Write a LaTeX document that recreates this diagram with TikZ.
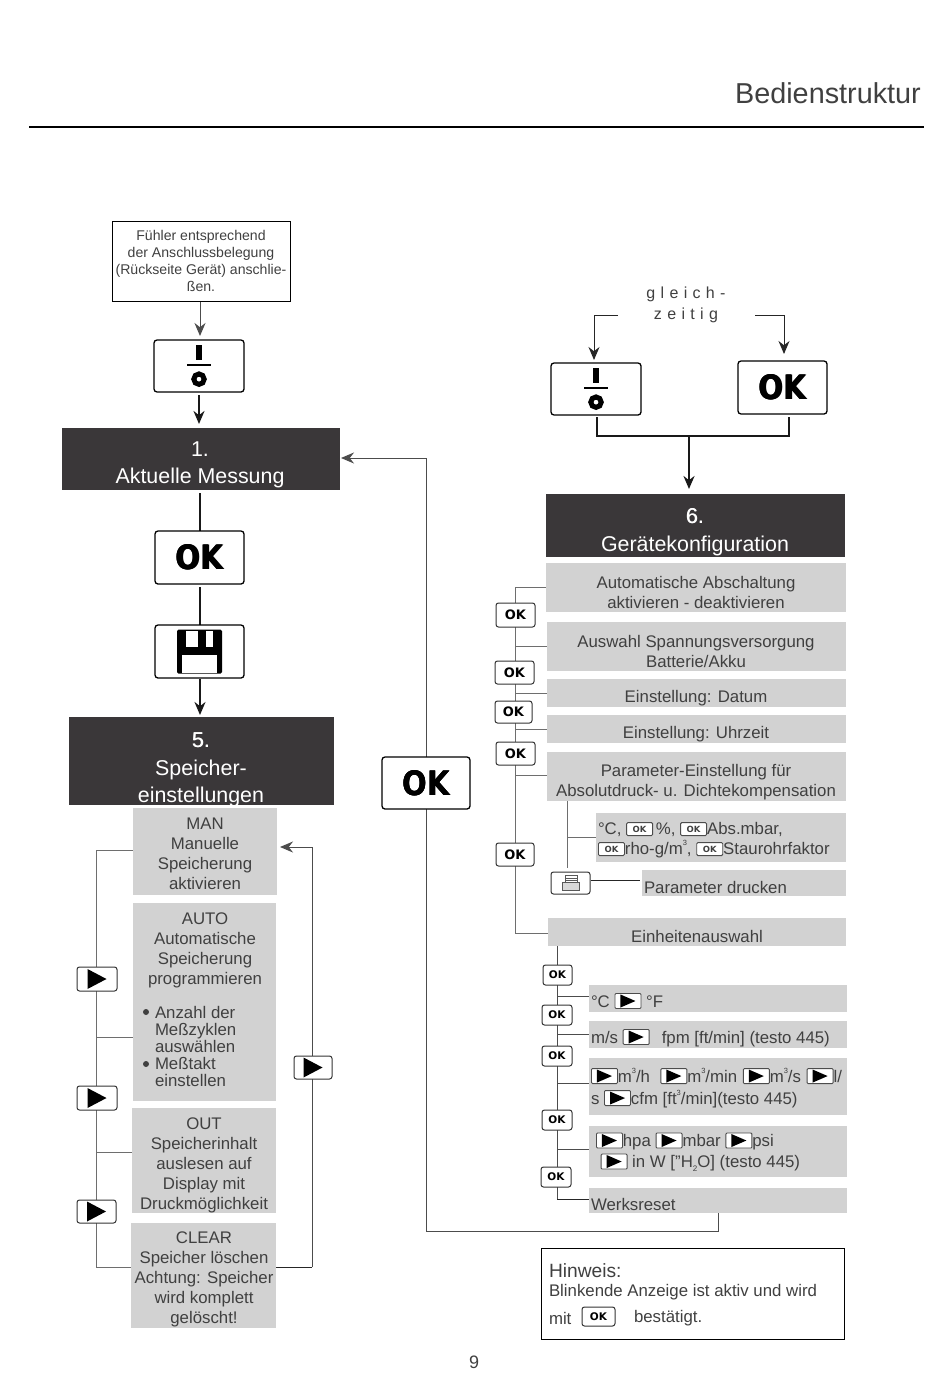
\documentclass[tikz,border=0pt]{standalone}
\usepackage{fontspec}
\usepackage{graphicx}
\setmainfont{Liberation Sans}
\newfontfamily\okfont{DejaVu Sans Bold}
\usetikzlibrary{arrows.meta,calc}
\definecolor{txtc}{HTML}{404040}
\definecolor{graybox}{HTML}{D2D2D2}
\definecolor{headc}{HTML}{3A3739}
\definecolor{linec}{HTML}{6E6E6E}
\pgfdeclarelayer{bg}
\pgfsetlayers{bg,main}
\tikzset{
 gbox/.style={fill=graybox,inner sep=0pt,outer sep=0pt},
 hbox/.style={fill=headc,inner sep=0pt,outer sep=0pt},
 wbox/.style={draw=black,line width=1pt,fill=white,inner sep=0pt,outer sep=0pt},
 btnbox/.style={draw=black!80,line width=1pt,fill=white,rounded corners=2.5pt,inner sep=0pt,outer sep=0pt},
 bigbtn/.style={draw=black,line width=1.3pt,fill=white,rounded corners=3pt,inner sep=0pt,outer sep=0pt},
 lbl/.style={inner sep=0pt,outer sep=0pt,text=txtc,align=center,font=\fontsize{16.8}{20}\selectfont},
 lbll/.style={lbl,align=left,anchor=west},
 hlbl/.style={inner sep=0pt,outer sep=0pt,text=white,align=center,font=\fontsize{21.4}{27.5}\selectfont},
 gl/.style={draw=linec,line width=1pt},
 bl/.style={draw=black!85,line width=1pt},
 thk/.style={draw=black!90,line width=2.4pt},
 arr/.style={-{Stealth[length=13pt,width=11pt]}},
}
\newcommand\bx[7]{% style,name,x1,y1,x2,y2,content
 \pgfmathsetmacro\bxw{#5-#3}\pgfmathsetmacro\bxh{#6-#4}%
 \pgfmathsetmacro\bxx{(#3+#5)/2}\pgfmathsetmacro\bxy{(#4+#6)/2}%
 \node[#1,minimum width=\bxw pt,minimum height=\bxh pt] (#2) at (\bxx,\bxy) {#7};}
\newcommand\oktxt[1]{{\okfont\fontsize{#1}{#1}\selectfont OK}}
\newcommand\bigok{\scalebox{.97}[1.12]{\okfont\fontsize{30}{30}\selectfont\rlap{OK}\kern.5pt\rlap{OK}\kern-.5pt\raisebox{.4pt}{OK}}}
\newcommand\fauxb[1]{\rlap{#1}\kern.35pt #1}
\newcommand\playicon[2]{\tikz[x=1pt,y=1pt,sharp corners]\fill[black] (0,0) -- (#1,#2/2) -- (0,#2) -- cycle;}
\newcommand\powericon{\tikz[x=1pt,y=1pt,sharp corners]{%
 \fill[black] (-2.8,26) rectangle (2.8,41);
 \fill[black] (-12,20) rectangle (12,22.4);
 \draw[black,line width=5pt] (0,7) circle (5.2pt);}}
\newcommand\floppy{\tikz[x=1pt,y=1pt,sharp corners]{%
 \fill[black,rounded corners=1.5pt] (0,0) rectangle (45,44);
 \fill[white] (9,27) rectangle (36,43);
 \fill[black] (21,27) rectangle (29,43);
 \fill[white] (5,1) rectangle (40,19);}}
\newcommand\printericon{\tikz[x=1pt,y=1pt,sharp corners]{%
 \draw[black!65,line width=.9pt,fill=white] (3,8) -- (3,15) -- (15,15) -- (15,8);
 \draw[black!65,line width=.9pt,fill=black!15] (0,0) rectangle (17,8);
 \draw[black!65,line width=.7pt] (3,12) -- (15,12) (3,10) -- (15,10);}}
\newcommand\inlok[2][26]{\raisebox{-1.6pt}{\tikz[x=1pt,y=1pt]\node[draw=black!70,line width=.9pt,fill=white,rounded corners=1.2pt,inner sep=0pt,minimum width=#1pt,minimum height=#2pt]{\oktxt{8.5}};}}
\newcommand\inlplay[1][26]{\raisebox{-1.5pt}{\tikz[x=1pt,y=1pt]\node[draw=black!70,line width=.9pt,fill=white,rounded corners=1pt,inner sep=0pt,minimum width=#1pt,minimum height=15pt]{\playicon{15}{13}};}}
\newcommand\supt[1]{\raisebox{.55em}{\fontsize{7.5}{7.5}\selectfont #1}}
\newcommand\subt[1]{\raisebox{-.2em}{\fontsize{8}{8}\selectfont #1}}
\begin{document}
\begin{tikzpicture}[x=1pt,y=-1pt]
\useasboundingbox (0,0) rectangle (950,1378);
% title
\node[inner sep=0pt,anchor=base east,text=txtc,font=\fontsize{28.8}{30}\selectfont] (title) at (921,104) {Bedienstruktur};
\coordinate (ruleL) at (29,127);
\coordinate (ruleR) at (924,127);
\draw[black,line width=2pt] (ruleL) -- (ruleR);
% left column
\bx{wbox}{probe}{112}{221}{290}{301}{}
\node[lbl,font=\fontsize{14.1}{17}\selectfont] (probeT) at (201,261) {Fühler entsprechend\\der Anschlussbelegung\\(Rückseite Gerät) anschlie-\\ßen.};
\bx{bigbtn}{pw1}{154}{340}{244}{392}{\powericon}
\bx{hbox}{h1}{62}{428}{340}{490}{}
\node[hlbl] (h1T) at (200,465) {1.\\Aktuelle Messung};
\bx{bigbtn}{ok1}{155}{531}{244}{584}{\bigok}
\bx{bigbtn}{save}{155}{625}{244}{678}{\floppy}
\bx{hbox}{h5}{69}{717}{334}{805}{}
\node[hlbl] (h5T) at (201,770) {\fauxb{5.}\\Speicher-\\einstellungen};
\bx{gbox}{man}{133}{808}{277}{895}{}
\node[lbl] (manT) at (205,854) {MAN\\Manuelle\\Speicherung\\aktivieren};
\bx{gbox}{auto}{133}{903}{276}{1101}{}
\node[lbl] (autoT) at (205,950) {AUTO\\Automatische\\Speicherung\\programmieren};
\node[lbl,align=left,anchor=north west,font=\fontsize{16.8}{17.2}\selectfont] (autoL) at (155,1006) {Anzahl der\\Meßzyklen\\auswählen\\Meßtakt\\einstellen};
\node[circle,fill=txtc,inner sep=0pt,minimum size=6pt] (b1) at (146,1012) {};
\node[circle,fill=txtc,inner sep=0pt,minimum size=6pt] (b2) at (146,1064) {};
\bx{gbox}{out}{132}{1108}{276}{1213}{}
\node[lbl] (outT) at (204,1165) {OUT\\Speicherinhalt\\auslesen auf\\Display mit\\Druckmöglichkeit};
\bx{gbox}{clear}{131}{1223}{276}{1328}{}
\node[lbl] (clearT) at (204,1279.5) {CLEAR\\Speicher löschen\\Achtung: Speicher\\wird komplett\\gelöscht!};
\bx{btnbox}{p1}{77}{967}{117}{991}{\playicon{19}{20}}
\bx{btnbox}{p2}{77}{1086}{117}{1110}{\playicon{19}{20}}
\bx{btnbox}{p3}{77}{1200}{116}{1223}{\playicon{19}{20}}
\bx{btnbox}{p4}{294}{1056}{332}{1079}{\playicon{19}{20}}
\bx{bigbtn}{okm}{382}{757}{470}{809}{\bigok}
% right column
\node[lbl,font=\fontsize{16}{21}\selectfont] (gleich) at (686,305) {g\,\,l\,\,e\,\,i\,\,c\,\,h\,\,-\\z\,\,e\,\,i\,\,t\,\,i\,\,g};
\bx{bigbtn}{pw2}{551}{363}{641}{415}{\powericon}
\bx{bigbtn}{ok2}{738}{361}{827}{414}{\bigok}
\bx{hbox}{h6}{546}{494}{845}{557}{}
\node[hlbl] (h6T) at (695,532) {\fauxb{6.}\\Gerätekonfiguration};
\bx{gbox}{ga}{546}{563}{846}{612}{}
\node[lbl] (gaT) at (696,592.5) {Automatische Abschaltung\\aktivieren - deaktivieren};
\bx{gbox}{gb}{547}{622}{846}{671}{}
\node[lbl] (gbT) at (696,651) {Auswahl Spannungsversorgung\\Batterie/Akku};
\bx{gbox}{gc}{547}{679}{846}{707}{}
\node[lbl] (gcT) at (696,698.5) {Einstellung: Datum};
\bx{gbox}{gd}{547}{715}{846}{743}{}
\node[lbl] (gdT) at (696,734.5) {Einstellung: Uhrzeit};
\bx{gbox}{ge}{547}{752}{846}{801}{}
\node[lbl] (geT) at (696,782) {Parameter-Einstellung für\\Absolutdruck- u. Dichtekompensation};
\bx{gbox}{gf}{596}{813}{846}{862}{}
\node[lbll] (gfT) at (598,840) {°C, \inlok{13}\,\%, \inlok{13}Abs.mbar,\\\inlok{13}rho-g/m\supt{3}, \inlok{13}Staurohrfaktor};
\bx{gbox}{gg}{642}{870}{846}{896}{}
\node[lbll] (ggT) at (644,887) {Parameter drucken};
\bx{gbox}{gh}{548}{918}{846}{946}{}
\node[lbl] (ghT) at (697,936.5) {Einheitenauswahl};
\bx{gbox}{gi}{589}{985}{847}{1012}{}
\node[lbll] (giT) at (591,1001) {°C \inlplay\ °F};
\bx{gbox}{gj}{589}{1021}{847}{1048}{}
\node[lbll] (gjT) at (591,1038) {m/s \inlplay\ \ \,fpm [ft/min] (testo 445)};
\bx{gbox}{gk}{589}{1058}{847}{1115}{}
\node[lbll,font=\fontsize{16.8}{22}\selectfont] (gkT) at (591,1088) {\inlplay m\supt{3}/h\kern1pt\ \ \inlplay m\supt{3}/min\kern1pt\ \inlplay m\supt{3}/s\kern1pt\ \inlplay l/\\s \inlplay cfm [ft\supt{3}/min](testo 445)};
\bx{gbox}{gl}{589}{1126}{847}{1177}{}
\node[lbll,font=\fontsize{16.8}{21}\selectfont] (glT) at (596,1152) {\inlplay hpa \inlplay mbar \inlplay psi\\\ \inlplay\ in W ["H\subt{2}O] (testo 445)};
\bx{gbox}{gm}{589}{1188}{847}{1213}{}
\node[lbll] (gmT) at (591,1204) {Werksreset};
\bx{btnbox}{k1}{496}{603}{535}{627}{\oktxt{13}}
\bx{btnbox}{k2}{495}{661}{534}{684}{\oktxt{13}}
\bx{btnbox}{k3}{495}{701}{532}{723}{\oktxt{13}}
\bx{btnbox}{k4}{496}{742}{535}{765}{\oktxt{13}}
\bx{btnbox}{k5}{496}{843}{534}{866}{\oktxt{13}}
\bx{btnbox}{print}{551}{872}{590}{894}{\printericon}
\bx{btnbox}{s1}{543}{965}{572}{985}{\oktxt{10.5}}
\bx{btnbox}{s2}{542}{1005}{572}{1025}{\oktxt{10.5}}
\bx{btnbox}{s3}{542}{1046}{572}{1066}{\oktxt{10.5}}
\bx{btnbox}{s4}{542}{1110}{572}{1130}{\oktxt{10.5}}
\bx{btnbox}{s5}{541}{1167}{571}{1187}{\oktxt{10.5}}
% note
\bx{wbox}{note}{541}{1248}{844}{1339}{}
\node[lbl,anchor=west,font=\fontsize{19.2}{20}\selectfont] (noteH) at (549,1271) {Hinweis:};
\node[lbl,anchor=west] (noteA) at (549,1292) {Blinkende Anzeige ist aktiv und wird};
\node[lbl,anchor=west] (noteB) at (549,1318) {mit};
\bx{btnbox}{noteok}{582}{1307}{615}{1326}{\oktxt{10.5}}
\node[lbl,anchor=west] (noteC) at (634,1318) {bestätigt.};
\node[inner sep=0pt,text=txtc,font=\fontsize{18}{18}\selectfont] (pageno) at (474,1362) {9};
% connectors
\begin{pgfonlayer}{bg}
\coordinate (L) at (96,850);
\coordinate (Lb) at (96,1267);
\coordinate (R) at (312,847);
\coordinate (Rb) at (312,1267);
\draw[gl] (man.west |- L) -- (L) -- (Lb) -- (clear.west |- Lb);
\coordinate (La) at (96,1037);
\coordinate (Lo) at (96,1152);
\draw[gl] (La) -- (auto.west |- La);
\draw[gl] (Lo) -- (out.west |- Lo);
\draw[bl] (clear.east |- Rb) -- (Rb);
\draw[gl,draw=black!70] (Rb) -- (R);
\draw[gl,draw=black!70,arr] (R) -- ([xshift=3pt]man.east |- R);
\coordinate (pa) at (200,301);
\draw[gl,draw=black!70,arr] (pa) -- ([yshift=4pt]pa |- pw1.north);
\coordinate (pb) at (199,395);
\draw[thk,arr] (pb) -- ([yshift=4pt]pb |- h1.north);
\coordinate (oa) at (200,493);
\draw[thk] (oa) -- (oa |- ok1.north);
\coordinate (ob) at (200,587);
\draw[thk] (ob) -- (ob |- save.north);
\coordinate (oc) at (200,679);
\draw[thk,arr] (oc) -- ([yshift=2pt]oc |- h5.north);
\coordinate (Mb) at (426,1231);
\coordinate (Mt) at (426,458);
\coordinate (Mr) at (718,1231);
\draw[gl,draw=black!70] (Mr |- gm.south) -- (Mr) -- (Mb) -- (Mt);
\draw[gl,draw=black!70,arr] (Mt) -- ([xshift=1pt]h1.east |- Mt);
\coordinate (gl1) at (618,315);
\coordinate (gl2) at (594,315);
\coordinate (gr1) at (755,315);
\coordinate (gr2) at (784,315);
\draw[bl,arr] (gl1) -- (gl2) -- ([yshift=3pt]gl2 |- pw2.north);
\draw[bl,arr] (gr1) -- (gr2) -- ([yshift=7pt]gr2 |- ok2.north);
\coordinate (brL) at (597,436);
\coordinate (brR) at (789,436);
\coordinate (brM) at (689,436);
\draw[thk] ([yshift=-2pt]brL |- pw2.south) -- (brL) -- (brR) -- ([yshift=-3pt]brR |- ok2.south);
\draw[thk,arr] (brM) -- ([yshift=5pt]brM |- h6.north);
% config spine
\coordinate (sa) at (515,587);
\coordinate (sh) at (515,933);
\draw[gl] (ga.west |- sa) -- (sa) -- (sh) -- (gh.west |- sh);
\foreach \yy/\nn in {646/gb,693/gc,729/gd,775/ge}{
  \coordinate (t) at (515,\yy);
  \draw[gl] (t) -- (\nn.west |- t);
}
\coordinate (subT) at (567,801);
\coordinate (subB) at (567,868);
\coordinate (subM) at (567,837);
\draw[gl] (subT) -- (subB);
\draw[gl] (subM) -- (gf.west |- subM);
\coordinate (pr) at (640,880);
\draw[bl] ([xshift=1pt]print.east |- pr) -- (pr);
\coordinate (ut) at (557,946);
\coordinate (ub) at (557,1199);
\draw[gl,draw=black!70] (ut) -- (ub);
\draw[bl] (ub) -- (gm.west |- ub);
\foreach \yy/\nn in {996/gi,1034/gj,1083/gk,1149/gl}{
  \coordinate (t) at (557,\yy);
  \draw[gl,draw=black!70] (t) -- (\nn.west |- t);
}
\end{pgfonlayer}
\end{tikzpicture}
\end{document}
